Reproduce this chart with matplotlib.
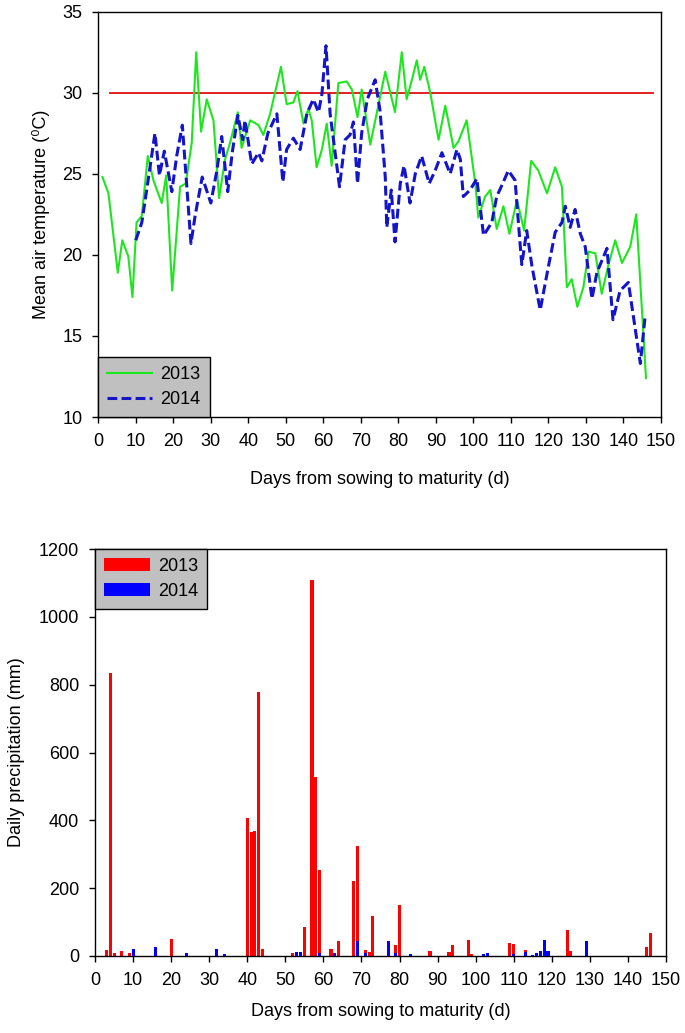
import matplotlib
matplotlib.use("Agg")
import matplotlib.pyplot as plt
from matplotlib.lines import Line2D
from matplotlib.patches import Patch

plt.rcParams['font.family'] = ['Liberation Sans', 'DejaVu Sans']

# ---- Temperature data (day, mean air temperature) ----
days_2013 = [1.1, 2.7, 5.2, 6.4, 8.0, 9.1, 10.2, 11.6, 13.2, 14.7, 16.9, 18.1, 19.7, 21.8,
             23.3, 24.9, 26.1, 27.4, 28.9, 30.7, 32.2, 33.8, 35.1, 37.2, 38.2, 40.5, 42.7,
             44.0, 45.8, 48.7, 50.2, 52.0, 53.1, 54.7, 56.0, 56.9, 58.2, 59.6, 60.9, 62.2,
             64.0, 66.2, 67.6, 69.1, 70.2, 72.5, 76.5, 79.1, 80.9, 82.2, 83.6, 84.9, 85.8,
             86.9, 88.5, 90.7, 92.5, 94.7, 96.0, 98.2, 100.5, 101.3, 103.1, 104.5, 106.2,
             108.0, 109.6, 111.6, 113.5, 115.4, 117.3, 119.6, 121.8, 123.6, 124.9, 126.2,
             127.7, 129.3, 130.7, 132.5, 134.2, 136.0, 137.8, 139.6, 141.8, 143.4, 146.0]
temp_2013 = [24.8, 23.8, 18.9, 20.9, 19.9, 17.4, 22.0, 22.4, 26.1, 24.6, 23.2, 24.9, 17.8, 24.2,
             24.4, 26.9, 32.5, 27.6, 29.6, 28.3, 23.5, 25.9, 26.9, 28.8, 26.6, 28.3, 28.0,
             27.4, 28.7, 31.6, 29.3, 29.4, 30.1, 28.1, 29.0, 28.3, 25.4, 26.5, 28.1, 25.5,
             30.6, 30.7, 30.2, 28.5, 30.2, 26.8, 31.3, 28.8, 32.5, 29.6, 30.8, 32.0, 30.8,
             31.6, 30.0, 27.1, 29.2, 26.6, 27.0, 28.3, 24.4, 22.3, 23.6, 24.0, 21.6,
             23.0, 21.3, 23.4, 21.5, 25.8, 25.2, 23.8, 25.4, 24.2, 18.0, 18.5,
             16.8, 18.0, 20.2, 20.1, 17.6, 19.4, 20.9, 19.5, 20.5, 22.5, 12.4]

days_2014 = [10.0, 11.6, 12.9, 15.1, 16.3, 17.6, 19.6, 20.9, 22.4, 24.7, 25.8, 27.7, 30.0,
             31.6, 32.9, 34.5, 35.7, 37.2, 38.5, 39.1, 40.9, 42.7, 43.6, 45.2, 47.6, 49.2,
             50.2, 52.0, 53.8, 55.6, 57.3, 58.7, 59.6, 60.7, 61.8, 64.3, 65.8, 67.1, 68.0,
             69.1, 70.2, 71.7, 73.8, 75.1, 76.5, 76.9, 78.1, 79.1, 80.5, 81.5, 83.1, 84.5,
             86.2, 88.2, 89.8, 91.6, 93.8, 95.6, 96.5, 97.3, 99.1, 100.9, 102.7, 104.9,
             106.2, 107.6, 109.3, 111.1, 112.5, 112.9, 114.2, 115.6, 117.8, 120.0, 121.8,
             123.6, 124.5, 125.8, 127.1, 128.5, 129.8, 131.6, 132.9, 135.6, 137.2, 139.1,
             141.3, 144.5, 145.8]
temp_2014 = [20.9, 22.0, 24.0, 27.5, 24.9, 26.4, 23.9, 26.1, 28.0, 20.7, 22.4, 24.8, 23.2,
             25.2, 27.3, 23.9, 26.3, 28.6, 27.1, 28.3, 25.6, 26.3, 25.8, 27.5, 28.7, 24.5,
             26.5, 27.2, 26.5, 28.7, 29.6, 28.8, 29.9, 32.9, 28.7, 24.2, 27.1, 27.4, 28.2,
             24.4, 27.5, 29.6, 30.8, 28.9, 24.8, 21.7, 24.0, 20.8, 24.4, 25.5, 23.2, 25.0,
             26.1, 24.4, 25.2, 26.3, 25.0, 26.5, 25.9, 23.6, 24.0, 24.7, 21.2, 22.0,
             23.6, 24.3, 25.2, 24.6, 20.5, 19.4, 21.5, 19.3, 16.6, 19.3, 21.4,
             22.0, 23.0, 21.7, 22.8, 21.3, 20.5, 17.3, 18.9, 20.4, 16.0, 17.8,
             18.3, 13.3, 16.3]

threshold_days = [3, 148]
threshold_temp = [30, 30]

# ---- Precipitation data (day, mm) ----
rain_days_2013 = [3, 4, 5, 7, 9, 20, 34, 40, 41, 42, 43, 44, 52, 55, 57, 58, 59, 62, 64,
                  68, 69, 71, 72, 73, 79, 80, 88, 93, 94, 98, 99, 109, 110, 113, 124, 125,
                  145, 146]
rain_2013 = [18, 833, 9, 16, 9, 50, 4, 408, 366, 369, 777, 21, 8, 85, 1108, 528, 254, 22, 45,
             221, 325, 19, 12, 117, 33, 151, 14, 12, 33, 48, 7, 37, 34, 17, 77, 16,
             28, 69]
rain_days_2014 = [10, 16, 24, 32, 34, 53, 54, 59, 63, 69, 71, 77, 79, 83, 102, 103, 110,
                  113, 115, 116, 117, 118, 119, 129]
rain_2014 = [21, 28, 8, 22, 7, 11, 11, 10, 9, 44, 9, 45, 10, 7, 6, 10, 6,
             13, 4, 10, 16, 47, 16, 45]

W, H = 685, 1033
fig = plt.figure(figsize=(W / 100, H / 100), dpi=100)

ax1 = fig.add_axes([98.3 / W, 1 - 417 / H, (661 - 98.3) / W, (417 - 11.7) / H])
ax2 = fig.add_axes([95 / W, 1 - 956 / H, (666 - 95) / W, (956 - 549) / H])

green = '#1ee61e'
blue = '#1414c8'
FS = 13

ax1.plot(threshold_days, threshold_temp, color='#e01010', lw=1.3, zorder=2)
ax1.plot(days_2013, temp_2013, color=green, lw=1.5, zorder=3)
ax1.plot(days_2014, temp_2014, color=blue, lw=2.2, dashes=(3.2, 1.4), zorder=4)
ax1.set_xlim(0, 150)
ax1.set_ylim(10, 35)
ax1.set_xticks(range(0, 151, 10))
ax1.set_yticks(range(10, 36, 5))
ax1.set_xlabel('Days from sowing to maturity (d)', fontsize=FS, labelpad=15)
ax1.set_ylabel('Mean air temperature (\u2070C)', fontsize=FS, labelpad=9)

h1 = [Line2D([], [], color=green, lw=1.5),
      Line2D([], [], color=blue, lw=2.2, dashes=(3.2, 1.4))]
leg1 = ax1.legend(h1, ['2013', '2014'], loc='lower left', bbox_to_anchor=(0, 0),
                  borderaxespad=0, fancybox=False, framealpha=1, facecolor='#c0c0c0',
                  edgecolor='black', fontsize=FS, handlelength=2.5, handletextpad=0.45,
                  borderpad=0.5, labelspacing=0.45)
leg1.get_frame().set_linewidth(1.0)
leg1.set_zorder(5)

ax2.bar(rain_days_2013, rain_2013, width=0.8, color='#ff0000', zorder=2)
ax2.bar(rain_days_2014, rain_2014, width=0.8, color='#0000ff', zorder=3)
ax2.set_xlim(0, 150)
ax2.set_ylim(0, 1200)
ax2.set_xticks(range(0, 151, 10))
ax2.set_yticks(range(0, 1201, 200))
ax2.set_xlabel('Days from sowing to maturity (d)', fontsize=FS, labelpad=10)
ax2.set_ylabel('Daily precipitation (mm)', fontsize=FS, labelpad=10)

h2 = [Patch(facecolor='#ff0000'), Patch(facecolor='#0000ff')]
leg2 = ax2.legend(h2, ['2013', '2014'], loc='upper left', bbox_to_anchor=(0, 1),
                  borderaxespad=0, fancybox=False, framealpha=1, facecolor='#c0c0c0',
                  edgecolor='black', fontsize=FS, handlelength=2.55, handleheight=0.72,
                  handletextpad=0.45, borderpad=0.5, labelspacing=0.45)
leg2.get_frame().set_linewidth(1.0)
leg2.set_zorder(5)

for ax in (ax1, ax2):
    ax.tick_params(direction='out', length=4.5, width=1, labelsize=FS, pad=7,
                   top=False, right=False)
    for s in ax.spines.values():
        s.set_linewidth(1.0)

fig.savefig('out.png', dpi=100)
